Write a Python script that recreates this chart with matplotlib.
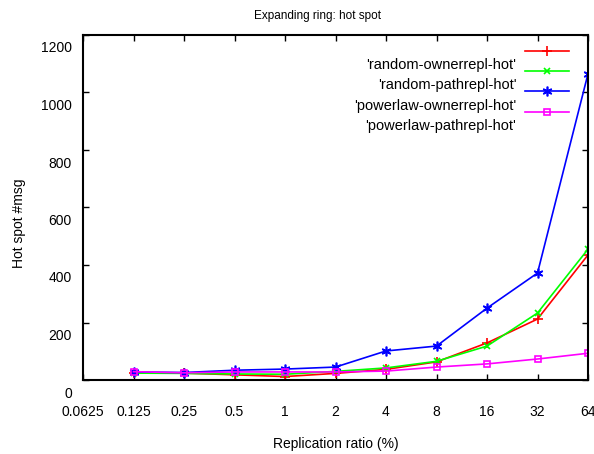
import matplotlib
matplotlib.use("Agg")
import matplotlib.pyplot as plt
from matplotlib.transforms import ScaledTranslation

plt.rcParams.update({
    "font.family": ["Liberation Sans", "DejaVu Sans"],
    "font.size": 10,
})

# replication ratio (%) on a log2 axis
ratio = [0.125, 0.25, 0.5, 1, 2, 4, 8, 16, 32, 64]
xticks = [0.0625, 0.125, 0.25, 0.5, 1, 2, 4, 8, 16, 32, 64]
xtick_labels = ["0.0625", "0.125", "0.25", "0.5", "1", "2", "4", "8", "16", "32", "64"]
yticks = [0, 200, 400, 600, 800, 1000, 1200]

random_owner = [25, 24, 18, 12, 23, 37, 63, 129, 212, 435]
random_path = [24, 23, 21, 20, 30, 42, 65, 118, 233, 455]
powerlaw_owner = [28, 26, 34, 38, 45, 101, 118, 250, 372, 1065]
powerlaw_path = [29, 25, 28, 28, 28, 31, 45, 56, 73, 93]

labels = ["'random-ownerrepl-hot'", "'random-pathrepl-hot'",
          "'powerlaw-ownerrepl-hot'", "'powerlaw-pathrepl-hot'"]

fig = plt.figure(figsize=(5.94, 4.54), dpi=100)
ax = fig.add_axes([83 / 594, 74 / 454, 505 / 594, 345 / 454])

lw = 1.2
l1, = ax.plot(ratio, random_owner, color="#ff0000", marker="+", ms=7, mew=1.2, lw=lw)
l2, = ax.plot(ratio, random_path, color="#00ff00", marker="x", ms=5, mew=1.2, lw=lw)
l3, = ax.plot(ratio, powerlaw_owner, color="#0000ff", marker=(6, 2, 0), ms=7, mew=1.2, lw=lw)
l4, = ax.plot(ratio, powerlaw_path, color="#ff00ff", marker="s", ms=5, mew=1.2, mfc="none", lw=lw)

ax.set_xscale("log", base=2)
ax.set_xlim(0.0625, 64)
ax.set_ylim(0, 1200)
ax.set_xticks(xticks)
ax.set_xticklabels(xtick_labels)
ax.set_yticks(yticks)
ax.minorticks_off()
ax.tick_params(direction="in", length=4, width=1, top=True, right=True, labelsize=10)
ax.tick_params(axis="x", pad=18)
ax.tick_params(axis="y", pad=8)
for s in ax.spines.values():
    s.set_linewidth(1.5)

# gnuplot-like downward shift of the y tick labels
shift = ScaledTranslation(0, -12 / 100, fig.dpi_scale_trans)
for t in ax.get_yticklabels():
    t.set_transform(t.get_transform() + shift)

ax.set_xlabel("Replication ratio (%)", fontsize=10)
ax.xaxis.set_label_coords(0.5, -0.165)
ax.set_ylabel("Hot spot #msg", fontsize=10)
ax.yaxis.set_label_coords(-0.113, 0.455)

ax.text(0.465, 1.055, "Expanding ring: hot spot", transform=ax.transAxes,
        ha="center", va="center", fontsize=8.5)

# legend with labels sitting one step below their line samples
leg = ax.legend([l1, l2, l3, l4], labels, loc="upper right", frameon=False,
                markerfirst=False, handlelength=3.0, handletextpad=0.6,
                labelspacing=0.42, fontsize=10.5, borderaxespad=0.4,
                bbox_to_anchor=(0.985, 1.004))
lshift = ScaledTranslation(0, -13 / 100, fig.dpi_scale_trans)
for t in leg.get_texts():
    t.set_transform(t.get_transform() + lshift)

fig.savefig("out.png", dpi=100)
